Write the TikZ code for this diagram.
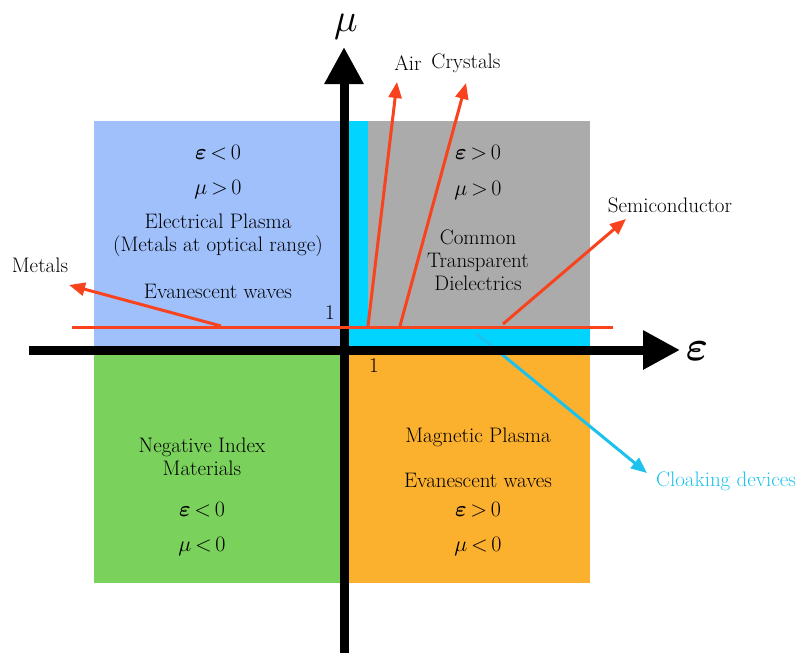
\RequirePackage{fix-cm}
\documentclass[tikz,border=0pt]{standalone}
\usepackage{amsmath,amssymb,bm}
\usepackage{tikz}
\usetikzlibrary{arrows.meta,positioning}
\definecolor{plasmablue}{HTML}{9FC0FA}
\definecolor{dielgray}{HTML}{ABABAB}
\definecolor{stripcyan}{HTML}{00D4FF}
\definecolor{negreen}{HTML}{7AD25C}
\definecolor{magorange}{HTML}{FBB02E}
\definecolor{rayred}{HTML}{F8431E}
\definecolor{cloakcyan}{HTML}{1CC2EC}
\newcommand{\beps}{\boldsymbol{\varepsilon}}
\newcommand{\rl}[1]{\,{#1}\,}

\begin{document}
\begin{tikzpicture}[
    x=1pt, y=-1pt,
    >=Stealth,
    txt/.style={font=\fontsize{21}{23}\selectfont, align=center,
                inner sep=0pt},
    rel/.style={font=\fontsize{22}{26}\selectfont, inner sep=0pt},
    lbl/.style={font=\fontsize{21}{23}\selectfont, inner sep=0pt},
    axis/.style={line width=9pt, -{Triangle[length=37pt,width=37pt]}},
    ray/.style={line width=3pt, draw=rayred,
                -{Triangle[length=16pt,width=13pt]}},
    cloak/.style={line width=3pt, draw=cloakcyan,
                  -{Triangle[length=16pt,width=13pt]}}
  ]
  \useasboundingbox (0,0) rectangle (800,653);

  % quadrants
  \fill[plasmablue] (94,121) rectangle (344,350);
  \fill[dielgray] (344,121) rectangle (590,350);
  \fill[negreen] (94,350) rectangle (344,583);
  \fill[magorange] (344,350) rectangle (590,583);
  \fill[stripcyan] (348,121) rectangle (368,346);
  \fill[stripcyan] (348,328) rectangle (590,346);

  % start points on the line mu = 1
  \coordinate (metalsfrom) at (221,326);
  \coordinate (airfrom) at (368,326);
  \coordinate (crystfrom) at (400,326);
  \coordinate (semifrom) at (503,324);
  \coordinate (cloakfrom) at (477,334);
  \coordinate (metalsto) at (69,285);
  \coordinate (airto) at (397,82);
  \coordinate (crystto) at (466,83);
  \coordinate (semito) at (626,219);
  \coordinate (cloakto) at (647,473);

  \draw[cloak] (cloakfrom) -- (cloakto);

  % axes
  \coordinate (epsfrom) at (29,350);
  \coordinate (epsto) at (680,350);
  \coordinate (mufrom) at (344,653);
  \coordinate (muto) at (344,47);
  \draw[axis] (epsfrom) -- (epsto);
  \draw[axis] (mufrom) -- (muto);
  \node[font=\fontsize{42}{46}\selectfont, inner sep=0pt] (epsaxis)
    at (697,351) {$\beps$};
  \node[font=\fontsize{40}{44}\selectfont, inner sep=0pt] (muaxis)
    at (346,27) {$\mu$};

  \coordinate (muonel) at (72,327.5);
  \coordinate (muoner) at (613,327.5);
  \draw[line width=3pt, rayred] (muonel) -- (muoner);
  \node[lbl] (onemu) at (330,313) {1};
  \node[lbl] (oneeps) at (374,366) {1};

  % rays
  \draw[ray] (metalsfrom) -- (metalsto);
  \draw[ray] (airfrom) -- (airto);
  \draw[ray] (crystfrom) -- (crystto);
  \draw[ray] (semifrom) -- (semito);
  \node[lbl] (metals) at (40,265) {Metals};
  \node[lbl] (air) at (408,63) {Air};
  \node[lbl] (crystals) at (466,63) {Crystals};
  \node[lbl] (semi) at (670,205) {Semiconductor};
  \node[lbl, text=cloakcyan] (cloaking) at (726,481) {Cloaking devices};

  % eps < 0, mu > 0
  \node[rel] (elepsv) at (218,153) {$\beps\rl{<}0$};
  \node[rel] (elmuv) at (218,190) {$\mu\rl{>}0$};
  \node[txt] (elname) at (218,235)
    {Electrical Plasma\\(Metals at optical range)};
  \node[txt] (elwave) at (218,291) {Evanescent waves};

  % eps > 0, mu > 0
  \node[rel] (diepsv) at (478,153) {$\beps\rl{>}0$};
  \node[rel] (dimuv) at (478,191) {$\mu\rl{>}0$};
  \node[txt] (diname) at (478,260) {Common\\Transparent\\Dielectrics};

  % eps < 0, mu < 0
  \node[txt] (niname) at (202,457) {Negative Index\\Materials};
  \node[rel] (niepsv) at (202,510) {$\beps\rl{<}0$};
  \node[rel] (nimuv) at (202,547) {$\mu\rl{<}0$};

  % eps > 0, mu < 0
  \node[txt] (mpname) at (478,437) {Magnetic Plasma};
  \node[txt] (mpwave) at (478,480) {Evanescent waves};
  \node[rel] (mpepsv) at (478,510) {$\beps\rl{>}0$};
  \node[rel] (mpmuv) at (478,547) {$\mu\rl{<}0$};
\end{tikzpicture}
\end{document}
